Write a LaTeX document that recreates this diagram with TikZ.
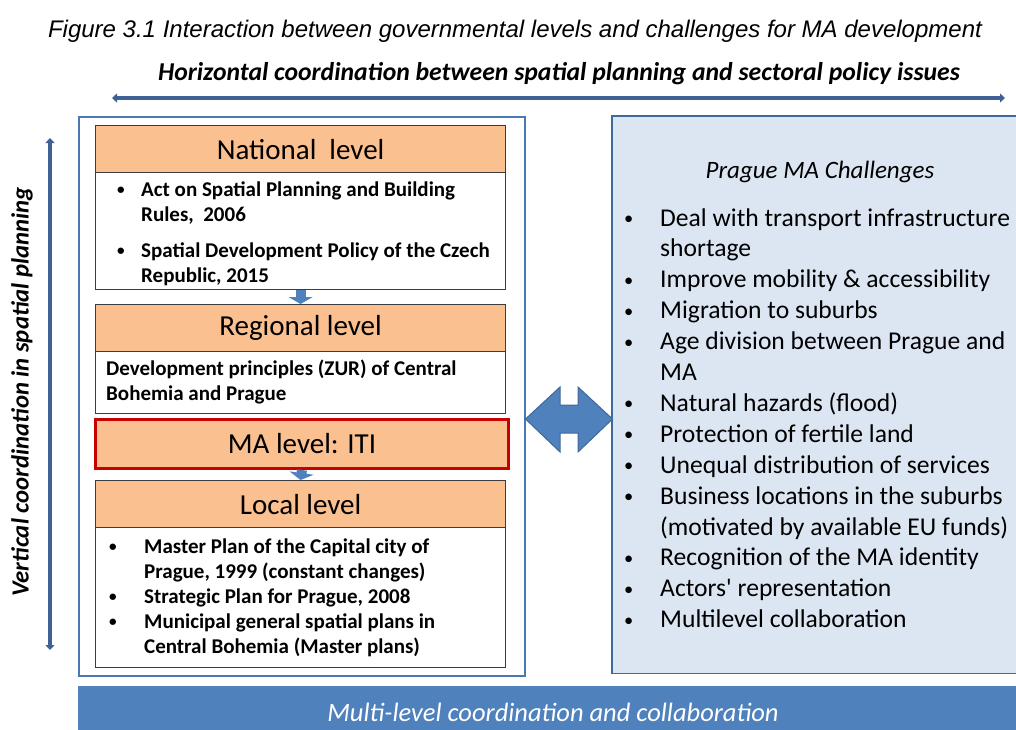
\documentclass[tikz,border=0pt]{standalone}
\usepackage{fontspec}
\setmainfont{Carlito}
\newfontfamily\arialfont{Liberation Sans}
\usetikzlibrary{arrows.meta,calc}
\definecolor{peach}{RGB}{250,192,144}
\definecolor{arrowblue}{RGB}{62,98,150}
\definecolor{frameblue}{RGB}{74,120,176}
\definecolor{rframecol}{RGB}{65,104,154}
\definecolor{lightblue}{RGB}{220,230,242}
\definecolor{bandblue}{RGB}{79,129,189}
\definecolor{mared}{RGB}{200,0,0}
\definecolor{boxline}{RGB}{60,60,60}
\newcommand\smbul{\raisebox{0.12ex}{\scalebox{0.72}{\textbullet}}}
\tikzset{
  levelhead/.style={draw=boxline, line width=1.2pt, fill=peach, anchor=north west, inner sep=0pt},
  levelbody/.style={draw=boxline, line width=1.2pt, fill=white, anchor=north west, inner sep=0pt},
  headtext/.style={inner sep=0pt, font=\fontsize{29}{34}\selectfont},
  listtext/.style={anchor=base west, inner sep=0pt, align=left},
  coordarrow/.style={draw=arrowblue, line width=4pt, {Triangle[length=5pt,width=9pt]}-{Triangle[length=5pt,width=9pt]}},
  downarrow/.style={draw=bandblue, line width=10pt, -{Triangle[length=7pt,width=24pt]}},
}
\begin{document}
\begin{tikzpicture}[x=1pt,y=-1pt]
\useasboundingbox (0,0) rectangle (1016,729);
\clip (0,0) rectangle (1016,729);
% title
\node[inner sep=0pt] (title) at (515,31) {\arialfont\itshape\fontsize{24}{28}\selectfont Figure 3.1 Interaction between governmental levels and challenges for MA development};
% horizontal coordination
\node[inner sep=0pt, font=\fontsize{25.7}{30}\selectfont\bfseries\itshape] (hlab) at (559,74) {Horizontal coordination between spatial planning and sectoral policy issues};
\coordinate (hL) at (112,98);
\coordinate (hR) at (1005,98);
\draw[coordarrow] (hL) -- (hR);
% vertical coordination
\coordinate (vT) at (50,138);
\coordinate (vB) at (50,650);
\draw[coordarrow] (vT) -- (vB);
\node[inner sep=0pt, rotate=90, font=\fontsize{24.7}{29}\selectfont\bfseries\itshape] (vlab) at (22,392) {Vertical coordination in spatial planning};
% frames
\node[draw=frameblue, line width=2pt, anchor=north west, minimum width=446pt, minimum height=559pt, inner sep=0pt] (leftframe) at (78,116) {};
\node[fill=lightblue, anchor=north west, minimum width=470pt, minimum height=557pt, inner sep=0pt] (rightframe) at (612,116) {};
\draw[rframecol, line width=1.6pt] (rightframe.north east) -- (rightframe.north west) -- (rightframe.south west) -- (rightframe.south east);
% bottom band
\node[fill=bandblue, anchor=north west, minimum width=980pt, minimum height=60pt, inner sep=0pt] (band) at (78,686) {};
\node[inner sep=0pt, text=white, font=\fontsize{26.5}{31}\selectfont\itshape] (bandlab) at (553,712) {Multi-level coordination and collaboration};
% levels
\node[levelhead, minimum width=410pt, minimum height=47pt] (nath) at (95,125) {};
\node[headtext] (nathtxt) at (nath.center) {National~ level};
\node[levelbody, minimum width=410pt, minimum height=117pt] (natb) at (95,172) {};
\node[levelhead, minimum width=410pt, minimum height=47pt] (regh) at (95,304) {};
\node[headtext] (reghtxt) at (regh.center) {Regional level};
\node[levelbody, minimum width=410pt, minimum height=62pt] (regb) at (95,351) {};
\node[levelhead, draw=mared, line width=3pt, minimum width=413pt, minimum height=49pt] (mah) at (94,418) {};
\node[headtext] (mahtxt) at (mah.center) {MA level: ITI};
\node[levelhead, minimum width=410pt, minimum height=47pt] (loch) at (95,480) {};
\node[headtext] (lochtxt) at (loch.center) {Local level};
\node[levelbody, minimum width=410pt, minimum height=140pt] (locb) at (95,527) {};
% small arrows
\draw[downarrow] (natb.south) -- (regh.north);
\draw[downarrow] (mah.south) -- (loch.north);
% list texts
\node[listtext] (nattxt) at (117,196) {\fontsize{21}{25}\selectfont\bfseries
\begin{tabular}[t]{@{}p{24pt}@{}l@{}}
\smbul & Act on Spatial Planning and Building\\
 & Rules,\ \ 2006\\[11pt]
\smbul & Spatial Development Policy of the Czech\\
 & Republic, 2015
\end{tabular}};
\node[listtext] (regtxt) at (106,375) {\fontsize{21}{25}\selectfont\bfseries
\begin{tabular}[t]{@{}l@{}}
Development principles (ZUR) of Central\\
Bohemia and Prague
\end{tabular}};
\node[listtext] (loctxt) at (109,553) {\fontsize{21}{25}\selectfont\bfseries
\begin{tabular}[t]{@{}p{35pt}@{}l@{}}
\smbul & Master Plan of the Capital city of\\
 & Prague, 1999 (constant changes)\\
\smbul & Strategic Plan for Prague, 2008\\
\smbul & Municipal general spatial plans in\\
 & Central Bohemia (Master plans)
\end{tabular}};
% right texts
\node[inner sep=0pt, font=\fontsize{25}{30}\selectfont\itshape] (chtitle) at (820,172) {Prague MA Challenges};
\node[listtext] (chtxt) at (624,226) {\fontsize{25.6}{30.9}\selectfont
\begin{tabular}[t]{@{}p{36pt}@{}l@{}}
\smbul & Deal with transport infrastructure\\
 & shortage\\
\smbul & Improve mobility \& accessibility\\
\smbul & Migration to suburbs\\
\smbul & Age division between Prague and\\
 & MA\\
\smbul & Natural hazards (flood)\\
\smbul & Protection of fertile land\\
\smbul & Unequal distribution of services\\
\smbul & Business locations in the suburbs\\
 & (motivated by available EU funds)\\
\smbul & Recognition of the MA identity\\
\smbul & Actors\textquotesingle\ representation\\
\smbul & Multilevel collaboration
\end{tabular}};
% double block arrow between frames
\coordinate (mid) at ($(leftframe.east |- 0,419)!0.5!(rightframe.west |- 0,419)$);
\draw[fill=bandblue, draw=rframecol, line width=1pt, shift={(mid)}]
  (-43.5,0) -- (-9,-32) -- (-9,-14) -- (9,-14) -- (9,-32) -- (43.5,0)
  -- (9,33) -- (9,14) -- (-9,14) -- (-9,33) -- cycle;
\end{tikzpicture}
\end{document}
